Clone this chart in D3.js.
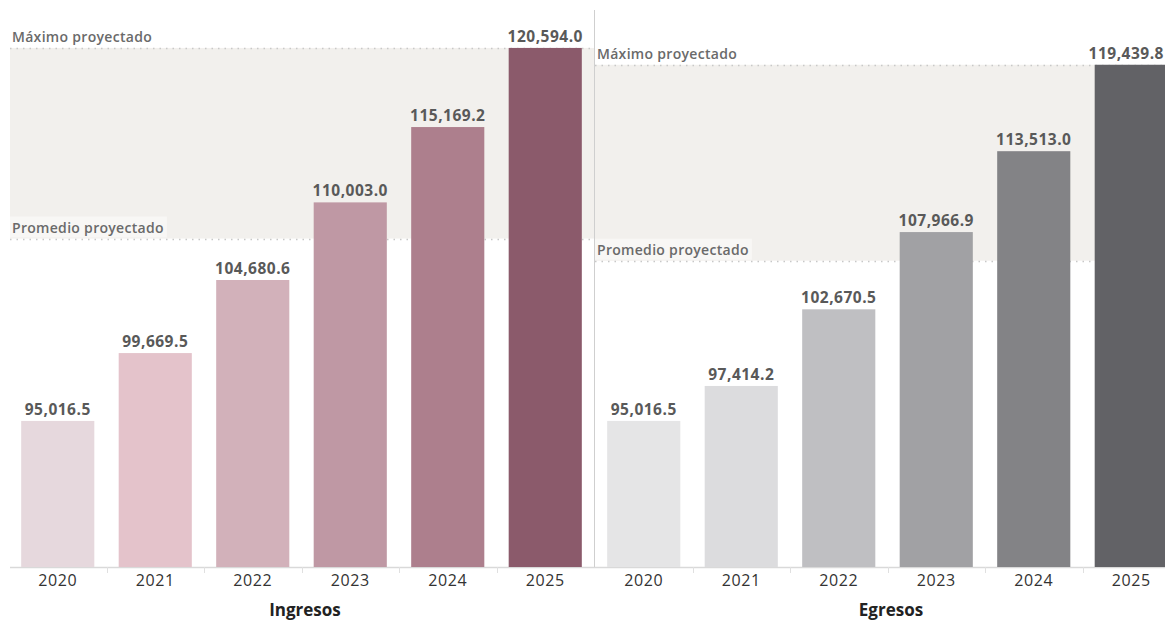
<!DOCTYPE html>
<html>
<head>
<meta charset="utf-8">
<title>Ingresos y Egresos</title>
<script src="https://cdn.jsdelivr.net/npm/d3@7"></script>
<style>
  body { margin:0; background:#fff; }
  svg { display:block; font-family:"Open Sans", sans-serif; }
</style>
</head>
<body>
<svg id="chart" width="1165" height="623"></svg>
<script>
// datos
var years = ["2020", "2021", "2022", "2023", "2024", "2025"];
var ingresos = [95016.5, 99669.5, 104680.6, 110003.0, 115169.2, 120594.0];
var egresos = [95016.5, 97414.2, 102670.5, 107966.9, 113513.0, 119439.8];
var ingresosColors = ["#e6d8dd", "#e4c3cb", "#d2b1ba", "#bf98a4", "#ad7f8d", "#8b5a6b"];
var egresosColors = ["#e5e5e6", "#dcdcde", "#bfbfc2", "#a1a1a4", "#838386", "#626266"];
var panelTitles = ["Ingresos", "Egresos"];

var svg = d3.select("#chart");
var base = 567;
var y = d3.scaleLinear().domain([85000, 125000]).range([base, base - 40000 * 0.014583]);
var fmt = d3.format(",.1f");

var panels = [
  {title: panelTitles[0], values: ingresos, colors: ingresosColors, x0: 9, x1: 594, clip: 594, tx: 305},
  {title: panelTitles[1], values: egresos, colors: egresosColors, x0: 595, x1: 1180, clip: 1165, tx: 891}
];

// axis line
svg.append("line").attr("x1", 10).attr("x2", 1165).attr("y1", base + 0.5).attr("y2", base + 0.5)
  .attr("stroke", "#d9d9d9").attr("stroke-width", 1.5);

panels.forEach(function(p) {
  var x = d3.scaleBand().domain(years).range([p.x0, p.x1]).paddingInner(0.25).paddingOuter(0.125);
  var avg = d3.mean(p.values), max = d3.max(p.values);
  var bx0 = Math.max(p.x0, 10), bx1 = p.clip;
  var g = svg.append("g");

  // banda proyectada
  g.append("rect").attr("x", bx0).attr("width", bx1 - bx0)
    .attr("y", y(max)).attr("height", y(avg) - y(max)).attr("fill", "#f2f0ed");

  [max, avg].forEach(function(v) {
    g.append("line").attr("x1", bx0).attr("x2", bx1).attr("y1", Math.round(y(v)) + 0.5).attr("y2", Math.round(y(v)) + 0.5)
      .attr("stroke", "#c8c8c8").attr("stroke-width", 1.5).attr("stroke-dasharray", "1.5,5");
  });

  // bars
  g.selectAll("rect.bar").data(p.values).enter().append("rect").attr("class", "bar")
    .attr("x", function(d, i) { return x(years[i]); })
    .attr("width", function(d, i) { return Math.min(x.bandwidth(), p.clip - x(years[i])); })
    .attr("y", function(d) { return y(d); })
    .attr("height", function(d) { return base - y(d); })
    .attr("fill", function(d, i) { return p.colors[i]; });

  // value labels
  g.selectAll("text.val").data(p.values).enter().append("text").attr("class", "val")
    .attr("x", function(d, i) { return x(years[i]) + x.bandwidth() / 2; })
    .attr("y", function(d) { return y(d) - 6; })
    .attr("text-anchor", "middle").attr("font-size", 15.5).attr("font-weight", 700)
    .attr("letter-spacing", 0.5)
    .attr("fill", "#595959").text(function(d) { return fmt(d); })
    .each(function() {
      var b = this.getBBox();
      if (b.x + b.width > 1164) d3.select(this).attr("text-anchor", "end").attr("x", 1164);
    });

  // band labels
  var lx = bx0 + 2;
  var pm = g.append("text").attr("x", lx).attr("y", y(avg) - 6)
    .attr("font-size", 14).attr("font-weight", 600).attr("letter-spacing", 0.3)
    .attr("fill", "#6a6a6a").text("Promedio proyectado");
  var bb = pm.node().getBBox();
  g.insert("rect", function() { return pm.node(); })
    .attr("x", bb.x - 2).attr("y", bb.y - 1).attr("width", bb.width + 5).attr("height", y(avg) - bb.y)
    .attr("fill", "#f8f7f5");
  g.append("text").attr("x", lx).attr("y", y(max) - 6)
    .attr("font-size", 14).attr("font-weight", 600).attr("letter-spacing", 0.3)
    .attr("fill", "#6a6a6a").text("Máximo proyectado");

  // x axis ticks and labels
  var ax = g.append("g").attr("transform", "translate(0," + (base + 1) + ")")
    .call(d3.axisBottom(x).tickSize(0).tickPadding(7));
  ax.select(".domain").remove();
  ax.selectAll("text").attr("font-size", 16).attr("letter-spacing", 0.6)
    .attr("fill", "#333").attr("font-family", "Open Sans, sans-serif");
  var step = x.step();
  years.slice(1).forEach(function(yr) {
    var tx = Math.round(x(yr) - (step - x.bandwidth()) / 2) + 0.5;
    g.append("line").attr("x1", tx).attr("x2", tx).attr("y1", base).attr("y2", base + 6)
      .attr("stroke", "#e0e0e0");
  });

  g.append("text").attr("x", p.tx).attr("y", 616)
    .attr("text-anchor", "middle").attr("font-size", 17).attr("font-weight", 700).attr("fill", "#222")
    .text(p.title);
});

// divisor
svg.append("line").attr("x1", 594.5).attr("x2", 594.5).attr("y1", 10).attr("y2", base)
  .attr("stroke", "#cfcfcf");
</script>
</body>
</html>
